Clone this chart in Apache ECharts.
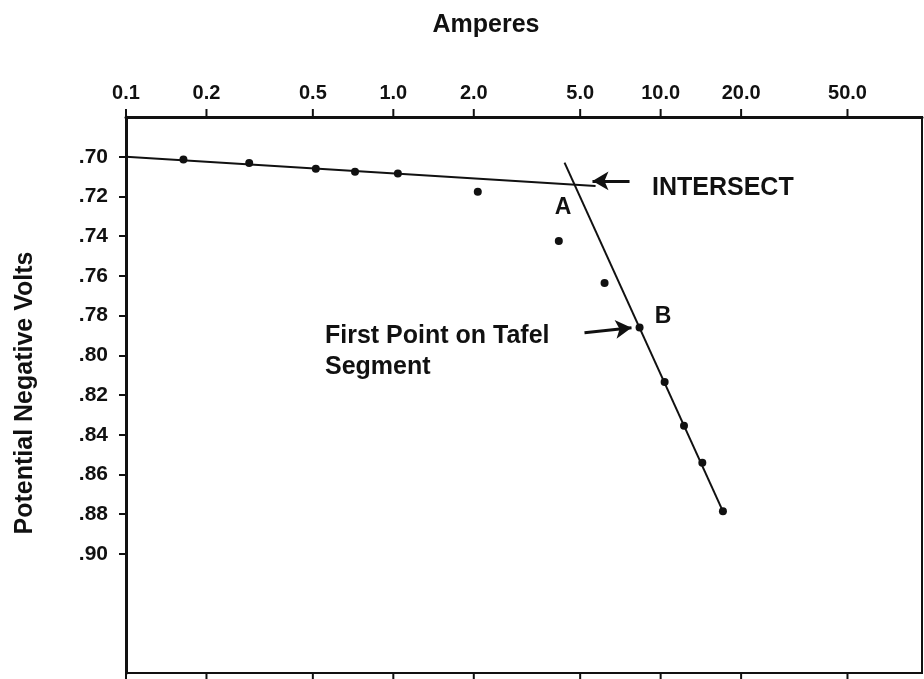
<!DOCTYPE html>
<html>
<head>
<meta charset="utf-8">
<script src="https://cdn.jsdelivr.net/npm/echarts@6/dist/echarts.min.js"></script>
<style>html,body{margin:0;padding:0;background:#fff}#c{width:924px;height:679px}</style>
</head>
<body>
<div id="c"></div>
<script>
// Measured points: current (amperes) and potential (negative volts)
const amperes = [0.164, 0.289, 0.513, 0.719, 1.04, 2.07, 4.16, 6.17, 8.34, 10.35, 12.23, 14.32, 17.1];
const volts   = [0.7014, 0.7032, 0.706, 0.7076, 0.7085, 0.7177, 0.7425, 0.7636, 0.786, 0.8134, 0.8355, 0.8541, 0.8786];
// Fitted line segments
const lineOneAmps  = [0.1, 5.71];
const lineOneVolts = [0.700, 0.7148];
const tafelAmps    = [4.37, 17.1];
const tafelVolts   = [0.703, 0.8786];
// Axis ticks
const xTickValues = [0.1, 0.2, 0.5, 1, 2, 5, 10, 20, 50];
const xTickLabels = ['0.1', '0.2', '0.5', '1.0', '2.0', '5.0', '10.0', '20.0', '50.0'];
const yTickValues = [0.70, 0.72, 0.74, 0.76, 0.78, 0.80, 0.82, 0.84, 0.86, 0.88, 0.90];
// Annotation arrows (data coordinates)
const intersectArrow = [[7.65, 0.7122], [5.56, 0.7122]];
const tafelArrow     = [[5.19, 0.7886], [7.78, 0.7861]];

const X_MIN = 0.1, X_MAX = 95, Y_MIN = 0.68, Y_MAX = 0.96;
const INK = '#111';
const FONT = '"Liberation Sans", Arial, sans-serif';

const chart = echarts.init(document.getElementById('c'), null, {renderer: 'canvas'});

const zip = (a, b) => a.map((v, i) => [v, b[i]]);

chart.setOption({
  animation: false,
  backgroundColor: '#fff',
  grid: {left: 126, right: 2, top: 117, bottom: 6, show: true, borderColor: INK, borderWidth: 2},
  xAxis: [{
    type: 'log', logBase: 10, min: X_MIN, max: X_MAX, position: 'top',
    axisLine: {show: true, onZero: false, lineStyle: {color: INK, width: 3}},
    axisTick: {show: false}, axisLabel: {show: false}, splitLine: {show: false}, minorTick: {show: false}
  }],
  yAxis: [{
    type: 'value', min: Y_MIN, max: Y_MAX, inverse: true,
    axisLine: {show: true, onZero: false, lineStyle: {color: INK, width: 3}},
    axisTick: {show: true, length: 7, lineStyle: {color: INK, width: 2}, customValues: yTickValues},
    axisLabel: {show: true, margin: 18, color: INK, fontFamily: FONT, fontWeight: 'bold', fontSize: 21,
      customValues: yTickValues,
      formatter: v => v.toFixed(2).slice(1)},
    splitLine: {show: false}
  }],
  graphic: [
    {type: 'text', x: 486, y: 25, style: {text: 'Amperes', align: 'center', verticalAlign: 'middle', fill: INK, font: 'bold 25px ' + FONT}},
    {type: 'text', x: 25, y: 393, rotation: Math.PI / 2, style: {text: 'Potential Negative Volts', align: 'center', verticalAlign: 'middle', fill: INK, font: 'bold 25px ' + FONT}},
    {type: 'text', x: 652, y: 188, style: {text: 'INTERSECT', align: 'left', verticalAlign: 'middle', fill: INK, font: 'bold 25px ' + FONT}},
    {type: 'text', x: 325, y: 336, style: {text: 'First Point on Tafel', align: 'left', verticalAlign: 'middle', fill: INK, font: 'bold 25px ' + FONT}},
    {type: 'text', x: 325, y: 367, style: {text: 'Segment', align: 'left', verticalAlign: 'middle', fill: INK, font: 'bold 25px ' + FONT}},
    {type: 'text', x: 563, y: 208, style: {text: 'A', align: 'center', verticalAlign: 'middle', fill: INK, font: 'bold 23px ' + FONT}},
    {type: 'text', x: 663, y: 317, style: {text: 'B', align: 'center', verticalAlign: 'middle', fill: INK, font: 'bold 23px ' + FONT}}
  ],
  series: [
    {
      type: 'line', name: 'fit1', data: zip(lineOneAmps, lineOneVolts), symbol: 'none',
      lineStyle: {color: INK, width: 2}, silent: true
    },
    {
      type: 'line', name: 'tafel', data: zip(tafelAmps, tafelVolts), symbol: 'none',
      lineStyle: {color: INK, width: 2}, silent: true,
      markLine: {
        silent: true, symbol: ['none', 'arrow'], symbolSize: [14, 16],
        lineStyle: {color: INK, width: 3, type: 'solid'}, label: {show: false},
        data: [
          [{coord: intersectArrow[0]}, {coord: intersectArrow[1]}],
          [{coord: tafelArrow[0]}, {coord: tafelArrow[1]}]
        ]
      }
    },
    {
      type: 'scatter', name: 'points', data: zip(amperes, volts), symbol: 'circle', symbolSize: 8,
      itemStyle: {color: INK, opacity: 1}, silent: true
    },
    {
      type: 'custom', name: 'xticks', silent: true, clip: false,
      data: xTickValues.map(v => [v, Y_MIN]),
      encode: {x: 0, y: 1},
      renderItem: function (params, api) {
        const v = api.value(0);
        const top = api.coord([v, Y_MIN]);
        const bot = api.coord([v, Y_MAX]);
        return {
          type: 'group',
          children: [
            {type: 'line', shape: {x1: top[0], y1: top[1], x2: top[0], y2: top[1] - 8}, style: {stroke: INK, lineWidth: 2}},
            {type: 'line', shape: {x1: bot[0], y1: bot[1], x2: bot[0], y2: bot[1] + 8}, style: {stroke: INK, lineWidth: 2}},
            {type: 'text', x: top[0], y: top[1] - 24, style: {text: xTickLabels[params.dataIndex], align: 'center', verticalAlign: 'middle', fill: INK, font: 'bold 20px ' + FONT}}
          ]
        };
      }
    }
  ]
});
</script>
</body>
</html>
